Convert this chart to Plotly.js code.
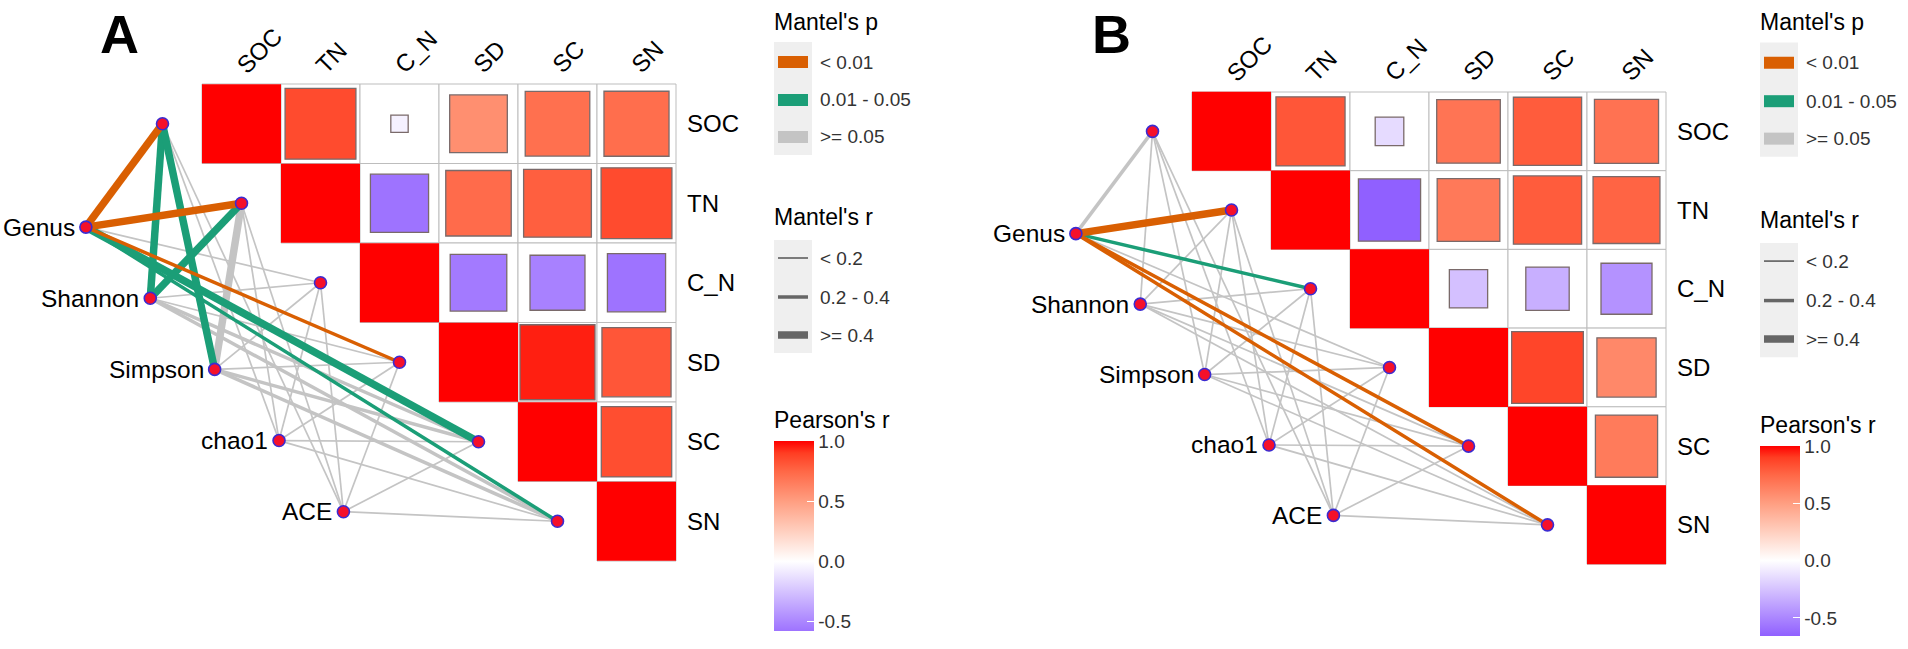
<!DOCTYPE html>
<html><head><meta charset="utf-8">
<script src="https://cdn.plot.ly/plotly-3.0.1.min.js"></script>
<style>html,body{margin:0;padding:0;background:#fff}</style>
</head><body><div id="chart" style="width:1908px;height:649px"></div>
<script>
// ---------------- DATA ----------------
const envVars = ["SOC","TN","C_N","SD","SC","SN"];
const specVars = ["Genus","Shannon","Simpson","chao1","ACE"];
// Pearson's r between environmental variables (upper triangle, row i, col j >= i)
const pearsonA = [
  [1, 0.85, -0.06, 0.57, 0.71, 0.72],
  [null, 1, -0.58, 0.73, 0.78, 0.85],
  [null, null, 1, -0.55, -0.52, -0.58],
  [null, null, null, 1, 0.95, 0.81],
  [null, null, null, null, 1, 0.84],
  [null, null, null, null, null, 1]
];
const pearsonB = [
  [1, 0.81, -0.15, 0.69, 0.79, 0.70],
  [null, 1, -0.66, 0.67, 0.79, 0.76],
  [null, null, 1, -0.26, -0.33, -0.45],
  [null, null, null, 1, 0.87, 0.60],
  [null, null, null, null, 1, 0.66],
  [null, null, null, null, null, 1]
];
// Mantel's p class (0: < 0.01, 1: 0.01 - 0.05, 2: >= 0.05); rows = specVars, cols = envVars
const mantelPA = [
  [0, 0, 2, 0, 1, 1],
  [1, 1, 2, 2, 2, 2],
  [1, 2, 2, 2, 2, 2],
  [2, 2, 2, 2, 2, 2],
  [2, 2, 2, 2, 2, 2]
];
// Mantel's r class (0: < 0.2, 1: 0.2 - 0.4, 2: >= 0.4)
const mantelRA = [
  [2, 2, 0, 1, 2, 1],
  [2, 2, 0, 0, 1, 1],
  [2, 2, 0, 0, 1, 1],
  [0, 0, 0, 0, 0, 0],
  [0, 0, 0, 0, 0, 0]
];
const mantelPB = [
  [2, 0, 1, 2, 0, 0],
  [2, 2, 2, 2, 2, 2],
  [2, 2, 2, 2, 2, 2],
  [2, 2, 2, 2, 2, 2],
  [2, 2, 2, 2, 2, 2]
];
const mantelRB = [
  [1, 2, 1, 0, 1, 1],
  [0, 0, 0, 0, 0, 0],
  [0, 0, 0, 0, 0, 0],
  [0, 0, 0, 0, 0, 0],
  [0, 0, 0, 0, 0, 0]
];
const pLabels = ["< 0.01", "0.01 - 0.05", ">= 0.05"];
const rLabels = ["< 0.2", "0.2 - 0.4", ">= 0.4"];
const cbTickVals = [-0.5, 0, 0.5, 1];
const cbTickText = ["-0.5", "0.0", "0.5", "1.0"];

// ---------------- STYLE ----------------
const W = 1908, H = 649;
const FONT = "Liberation Sans, Arial, Helvetica, sans-serif";
const pColors = ["#D95F02", "#1B9E77", "#C4C4C4"];
const rWidths = [1.7, 3.5, 7.5];
const lowRGB = [87, 14, 255];
const posStops = [[0, [255,255,255]], [0.25, [255,207,191]], [0.5, [255,158,129]], [0.75, [255,103,70]], [0.9, [255,61,34]], [1, [255,0,0]]];

function colorAt(v) {
  if (v <= 0) {
    const t = Math.min(1, -v);
    return [255 - t*(255-lowRGB[0]), 255 - t*(255-lowRGB[1]), 255 - t*(255-lowRGB[2])];
  }
  for (let k = 1; k < posStops.length; k++) {
    if (v <= posStops[k][0]) {
      const [a, ca] = posStops[k-1], [b, cb] = posStops[k];
      const t = (v - a)/(b - a);
      return ca.map((c, i) => c + t*(cb[i]-c));
    }
  }
  return [255,0,0];
}
const rgbStr = c => `rgb(${c.map(Math.round).join(",")})`;

const panels = [
  {letter: "A", xa: "x", ya: "y", xk: "xaxis", yk: "yaxis", gx: 202, gy: 84, cw: 79, ch: 79.5,
   dom: [0, 954], corr: pearsonA, mp: mantelPA, mr: mantelRA, legX: 774, legS: 1.0, letterX: 98},
  {letter: "B", xa: "x2", ya: "y2", xk: "xaxis2", yk: "yaxis2", gx: 1192, gy: 92, cw: 79, ch: 78.7,
   dom: [954, 1908], corr: pearsonB, mp: mantelPB, mr: mantelRB, legX: 1760, legS: 1.012, letterX: 1090}
];

const traces = [], shapes = [], annotations = [];
const layout = {
  width: W, height: H, margin: {l: 0, r: 0, t: 0, b: 0},
  paper_bgcolor: "#fff", plot_bgcolor: "rgba(0,0,0,0)", showlegend: false,
  font: {family: FONT, color: "#000"}
};
const px2x = px => px / W, py2y = py => 1 - py / H;

// spec node layout (in cell units)
const specStart = [-1.47, 1.80], specStep = [0.815, 0.895];

panels.forEach(P => {
  layout[P.xk] = {domain: [P.dom[0]/W, P.dom[1]/W], range: [(P.dom[0]-P.gx)/P.cw, (P.dom[1]-P.gx)/P.cw],
    visible: false, fixedrange: true};
  layout[P.yk] = {domain: [0, 1], range: [(H-P.gy)/P.ch, -P.gy/P.ch], visible: false, fixedrange: true};
  if (P.xa === "x2") { layout[P.xk].anchor = "y2"; layout[P.yk].anchor = "x2"; }
  const n = envVars.length;

  // grid cells
  for (let i = 0; i < n; i++) for (let j = i; j < n; j++) {
    shapes.push({type: "rect", xref: P.xa, yref: P.ya, x0: j, x1: j+1, y0: i, y1: i+1,
      line: {color: "#BDBDBD", width: 1}, fillcolor: "#fff", layer: "below"});
  }

  // Mantel edges
  const anchorPos = envVars.map((e, j) => [j - 0.5, j + 0.5]);
  const specPos = specVars.map((s, k) => [specStart[0] + k*specStep[0], specStart[1] + k*specStep[1]]);
  const edges = [];
  specVars.forEach((s, k) => envVars.forEach((e, j) => edges.push({k, j, p: P.mp[k][j], r: P.mr[k][j]})));
  edges.sort((a, b) => (b.p - a.p) || (a.r - b.r));
  edges.forEach(ed => {
    traces.push({type: "scatter", mode: "lines", xaxis: P.xa, yaxis: P.ya, hoverinfo: "skip",
      x: [specPos[ed.k][0], anchorPos[ed.j][0]], y: [specPos[ed.k][1], anchorPos[ed.j][1]],
      line: {color: pColors[ed.p], width: rWidths[ed.r]}});
  });

  // correlation squares
  const vals = [];
  P.corr.forEach(row => row.forEach(v => { if (v !== null) vals.push(v); }));
  const cmin = Math.min(...vals);
  const stopVals = [cmin, cmin/2, 0, 0.25, 0.5, 0.75, 0.9, 1];
  const colorscale = stopVals.map(v => [(v - cmin)/(1 - cmin), rgbStr(colorAt(v))]);
  const cx = [], cy = [], cc = [], cs = [], lc = [], lw = [];
  for (let i = 0; i < n; i++) for (let j = i; j < n; j++) {
    const v = P.corr[i][j];
    cx.push(j + 0.5); cy.push(i + 0.5); cc.push(v);
    const diag = (i === j);
    cs.push(P.cw * Math.sqrt(Math.abs(v)) - (diag ? 0 : 2));
    lc.push(diag ? "rgba(0,0,0,0)" : "#7A6A6A");
    lw.push(diag ? 0 : 1.3);
  }
  const S = y => y * P.legS;
  traces.push({type: "scatter", mode: "markers", xaxis: P.xa, yaxis: P.ya, hoverinfo: "skip",
    x: cx, y: cy,
    marker: {symbol: "square", size: cs, color: cc, cmin: cmin, cmax: 1, colorscale: colorscale,
      line: {color: lc, width: lw}, opacity: 1,
      showscale: true,
      colorbar: {x: px2x(P.legX), xanchor: "left", xref: "paper", y: py2y(S(441)), yanchor: "top", yref: "paper",
        len: 190, lenmode: "pixels", thickness: 40, thicknessmode: "pixels", outlinewidth: 0,
        tickvals: cbTickVals, ticktext: cbTickText, ticks: "inside", ticklen: 7, tickcolor: "#fff",
        tickfont: {size: 19, color: "#333", family: FONT}, xpad: 0, ypad: 0}}});

  // nodes
  traces.push({type: "scatter", mode: "markers", xaxis: P.xa, yaxis: P.ya, hoverinfo: "skip",
    x: anchorPos.map(a => a[0]).concat(specPos.map(s => s[0])),
    y: anchorPos.map(a => a[1]).concat(specPos.map(s => s[1])),
    marker: {size: 12, color: "#F5102A", line: {color: "#3B2BD1", width: 1.6}}});

  // texts
  specVars.forEach((s, k) => annotations.push({xref: P.xa, yref: P.ya, x: specPos[k][0], y: specPos[k][1],
    text: s, showarrow: false, xanchor: "right", yanchor: "middle", xshift: -9,
    font: {size: 24.5, family: FONT, color: "#000"}}));
  envVars.forEach((e, i) => annotations.push({xref: P.xa, yref: P.ya, x: n, y: i + 0.5, text: e,
    showarrow: false, xanchor: "left", yanchor: "middle", xshift: 9, font: {size: 24, family: FONT, color: "#000"}}));
  envVars.forEach((e, j) => annotations.push({xref: P.xa, yref: P.ya, x: j + 0.5, y: 0, text: e,
    showarrow: false, xanchor: "left", yanchor: "bottom", xshift: -13, yshift: 3, textangle: -45,
    font: {size: 24, family: FONT, color: "#000"}}));
  annotations.push({xref: "paper", yref: "paper", x: px2x(P.letterX), y: py2y(2), text: "<b>" + P.letter + "</b>",
    showarrow: false, xanchor: "left", yanchor: "top", font: {size: 54, family: FONT, color: "#000"}});

  // legends
  const L = P.legX;
  const title = (t, y) => annotations.push({xref: "paper", yref: "paper", x: px2x(L - 2), y: py2y(S(y)), text: t,
    showarrow: false, xanchor: "left", yanchor: "middle", font: {size: 23, family: FONT, color: "#000"}});
  const label = (t, y) => annotations.push({xref: "paper", yref: "paper", x: px2x(L + 44), y: py2y(S(y)), text: t,
    showarrow: false, xanchor: "left", yanchor: "middle", font: {size: 19, family: FONT, color: "#333"}});
  title("Mantel's p", 22);
  shapes.push({type: "rect", xref: "paper", yref: "paper", x0: px2x(L), x1: px2x(L + 38), y0: py2y(S(42)), y1: py2y(S(155)),
    line: {width: 0}, fillcolor: "#EFEFEF"});
  const pKeyY = [62, 100, 137];
  pLabels.forEach((t, k) => {
    shapes.push({type: "line", xref: "paper", yref: "paper", x0: px2x(L + 4), x1: px2x(L + 34), y0: py2y(S(pKeyY[k])), y1: py2y(S(pKeyY[k])),
      line: {color: pColors[k], width: 12}});
    label(t, pKeyY[k]);
  });
  title("Mantel's r", 217);
  shapes.push({type: "rect", xref: "paper", yref: "paper", x0: px2x(L), x1: px2x(L + 38), y0: py2y(S(240)), y1: py2y(S(353)),
    line: {width: 0}, fillcolor: "#EFEFEF"});
  const rKeyY = [258, 297, 335];
  rLabels.forEach((t, k) => {
    shapes.push({type: "line", xref: "paper", yref: "paper", x0: px2x(L + 4), x1: px2x(L + 34), y0: py2y(S(rKeyY[k])), y1: py2y(S(rKeyY[k])),
      line: {color: "#666666", width: rWidths[k]}});
    label(t, rKeyY[k]);
  });
  title("Pearson's r", 420);
});

layout.shapes = shapes;
layout.annotations = annotations;
Plotly.newPlot("chart", traces, layout, {staticPlot: true, displayModeBar: false});
</script></body></html>
